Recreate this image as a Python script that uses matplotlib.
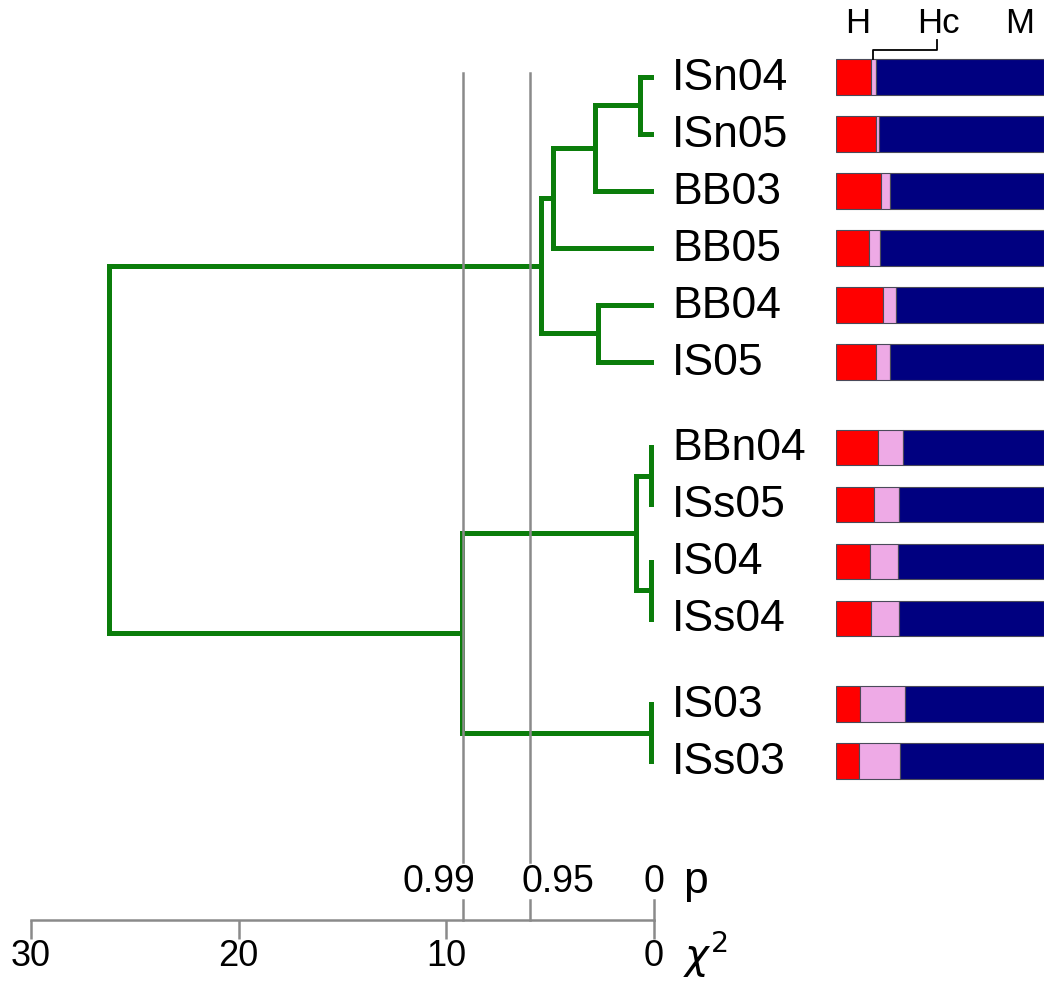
import matplotlib
matplotlib.use("Agg")
import matplotlib.pyplot as plt

plt.rcParams['font.family'] = ['Liberation Sans', 'DejaVu Sans']
plt.rcParams['mathtext.fontset'] = 'dejavusans'

# ---- data -------------------------------------------------------------
samples = ['ISn04', 'ISn05', 'BB03', 'BB05', 'BB04', 'IS05',
           'BBn04', 'ISs05', 'IS04', 'ISs04', 'IS03', 'ISs03']
group_sizes = [6, 4, 2]

# agglomeration steps: (child a, child b, chi-square height)
# leaves are 0..11, new nodes are numbered from 12 upward
merges = [
    (0, 1, 0.68),
    (12, 2, 2.85),
    (13, 3, 4.85),
    (4, 5, 2.70),
    (14, 15, 5.45),
    (6, 7, 0.14),
    (8, 9, 0.14),
    (17, 18, 0.85),
    (10, 11, 0.16),
    (19, 20, 9.25),
    (16, 21, 26.25),
]

# proportions of H, Hc and M in each sample
frac_H = [0.168, 0.192, 0.216, 0.159, 0.226, 0.192,
          0.202, 0.183, 0.163, 0.168, 0.115, 0.110]
frac_Hc = [0.024, 0.016, 0.043, 0.053, 0.062, 0.067,
           0.120, 0.120, 0.135, 0.135, 0.216, 0.200]
frac_M = [1 - h - c for h, c in zip(frac_H, frac_Hc)]

chi_ticks = [30, 20, 10, 0]
p_labels = ['0.99', '0.95', '0']
p_chi = [9.21, 5.99, 0.0]

# ---- layout -----------------------------------------------------------
W, H = 1047, 981
fig = plt.figure(figsize=(W / 100, H / 100), dpi=100)

row_step = 57.0
row0_px = 77.0


def k_of(px):
    return (px - row0_px) / row_step


ylim = (k_of(920), k_of(20))

# row positions: groups separated by an extra half row
ypos = []
y = 0.0
for gs in group_sizes:
    for _ in range(gs):
        ypos.append(y)
        y += 1.0
    y += 0.5

ax = fig.add_axes([31 / W, 1 - 920 / H, 623 / W, 900 / H])
ax.set_xlim(30, 0)
ax.set_ylim(*ylim)

green = '#0b7d0b'
grey = '#8a8a8a'

# ---- dendrogram -------------------------------------------------------
node_x = [0.0] * len(samples)
node_y = list(ypos)
for a, b, h in merges:
    for c in (a, b):
        ax.plot([node_x[c], h], [node_y[c], node_y[c]], color=green,
                lw=3.6, solid_capstyle='butt', zorder=2)
    ax.plot([h, h], [node_y[a], node_y[b]], color=green, lw=3.6,
            solid_capstyle='projecting', zorder=2)
    node_x.append(h)
    node_y.append((node_y[a] + node_y[b]) / 2)

for name, yy in zip(samples, ypos):
    ax.annotate(name, xy=(0, yy), xytext=(13, -1), textcoords='offset points',
                ha='left', va='center', fontsize=32, annotation_clip=False)

# significance levels
for v in p_chi[:2]:
    ax.plot([v, v], [k_of(73), k_of(862)], color=grey, lw=1.8, zorder=3)

# ---- axis -------------------------------------------------------------
for s in ('top', 'left', 'right'):
    ax.spines[s].set_visible(False)
ax.spines['bottom'].set_color(grey)
ax.spines['bottom'].set_linewidth(1.8)
ax.spines['bottom'].set_bounds(0, 30)
ax.set_yticks([])
ax.set_xticks(chi_ticks)
ax.set_xticklabels([str(t) for t in chi_ticks])
ax.tick_params(axis='x', direction='out', length=13.5, width=1.8, color=grey,
               labelsize=26, pad=0.5, labelcolor='black')

tr = ax.get_xaxis_transform()
p_align = [('right', 9), ('left', -6), ('center', 0)]
for v, lab, (ha, dx) in zip(p_chi, p_labels, p_align):
    ax.plot([v, v], [0, 20 / 900], color=grey, lw=1.8, transform=tr,
            clip_on=False)
    ax.annotate(lab, xy=(v, 38 / 900), xycoords=tr, xytext=(dx, 0),
                textcoords='offset points', ha=ha, va='center', fontsize=27,
                annotation_clip=False)

ax.annotate('p', xy=(0, 38 / 900), xycoords=tr, xytext=(21, 0),
            textcoords='offset points', ha='left', va='center', fontsize=32,
            annotation_clip=False)
ax.annotate(r'$\chi^2$', xy=(0, -49 / 900), xycoords=tr, xytext=(21, 0),
            textcoords='offset points', ha='left', va='baseline', fontsize=29,
            annotation_clip=False)

# ---- composition bars -------------------------------------------------
bx = fig.add_axes([836 / W, 1 - 920 / H, 208 / W, 900 / H])
bx.set_xlim(0, 1)
bx.set_ylim(*ylim)
bx.axis('off')

edge = dict(edgecolor='#4a4a5a', linewidth=0.8)
left_Hc = frac_H
left_M = [h + c for h, c in zip(frac_H, frac_Hc)]
bx.barh(ypos, frac_H, height=0.63, left=0, color='#ff0000', **edge)
bx.barh(ypos, frac_Hc, height=0.63, left=left_Hc, color='#eeaae6', **edge)
bx.barh(ypos, frac_M, height=0.63, left=left_M, color='#000080', **edge)

bx.text(0.106, k_of(24), 'H', ha='center', va='center', fontsize=25)
bx.text(0.49, k_of(24), 'Hc', ha='center', va='center', fontsize=25)
bx.text(0.885, k_of(24), 'M', ha='center', va='center', fontsize=25)
x0 = frac_H[0] + frac_Hc[0] / 2
bx.plot([x0, x0, 0.486, 0.486], [k_of(59), k_of(50), k_of(50), k_of(40)],
        color='black', lw=1.3, clip_on=False)

fig.savefig('out.png', dpi=100)
